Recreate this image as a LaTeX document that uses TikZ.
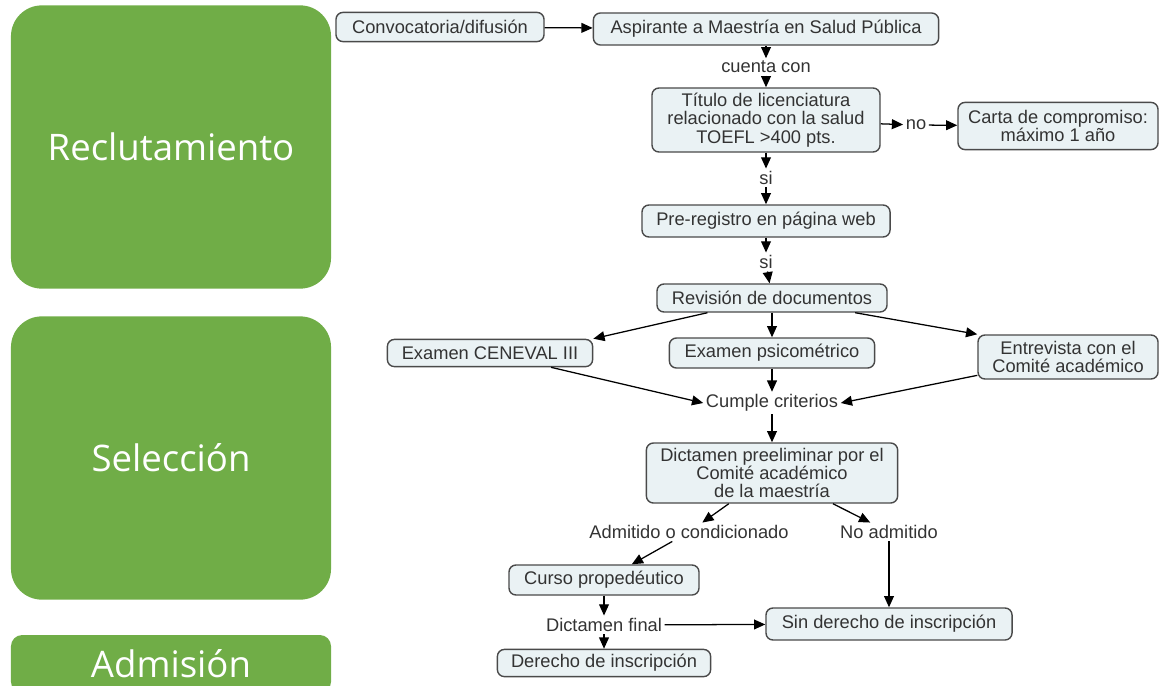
\documentclass[tikz,border=0pt]{standalone}
\usepackage{fontspec}
\setmainfont{Liberation Sans}
\newfontfamily\etapafont{Open Sans}
\usepackage{xcolor}
\usepackage{tikz}
\usetikzlibrary{arrows,arrows.meta}
\definecolor{verdeetapa}{HTML}{70AD47}
\definecolor{fondopaso}{HTML}{EAF2F4}
\definecolor{bordepaso}{HTML}{4A4A4A}
\definecolor{textopaso}{HTML}{333333}
\tikzset{
    paso/.style={
      rectangle,
      rounded corners=5pt,
      draw=bordepaso, line width=1pt,
      fill=fondopaso,
      inner sep=2pt,
      align=center,
      text=textopaso,
      font=\fontsize{13}{13}\selectfont,
    },
    etiqueta/.style={
      inner sep=1.5pt,
      text=textopaso,
      font=\fontsize{13}{13}\selectfont,
    },
    etapa/.style={
      rectangle,
      rounded corners=22pt,
      fill=verdeetapa,
      text=white,
      minimum width=8cm,
      font=\etapafont\fontsize{26}{30}\selectfont,
    },
}

\begin{document}
\begin{tikzpicture}[x=0.025cm,y=-0.025cm,->,>={Triangle[length=8pt,width=7pt]},line width=0.9pt]

    \useasboundingbox (0,0) rectangle (1168,685);

    \node[etapa, minimum height=7.08cm] (reclut) at (171,147) {Reclutamiento};
    \node[etapa, minimum height=7.08cm] (selec) at (171,458) {Selección};
    \node[etapa, minimum height=1.45cm, rounded corners=8pt] (admis) at (171,664) {Admisión};

    \node[paso, minimum width=5.2cm, minimum height=0.73cm] (conv) at (440,27) {Convocatoria/difusión};
    \node[paso, minimum width=8.63cm, minimum height=0.8cm] (asp) at (766,29) {Aspirante a Maestría en Salud Pública};
    \node[etiqueta] (cuenta) at (766,67) {cuenta con};

    \node[paso, minimum width=5.7cm, minimum height=1.6cm] (titulo) at (766,120)
    {
      Título de licenciatura \\
      relacionado con la salud \\
      TOEFL >400 pts.
    };
    \node[etiqueta] (no) at (916,125) {no};
    \node[paso, minimum width=5cm, minimum height=1.18cm] (carta) at (1058,126)
    {
      Carta de compromiso: \\
      máximo 1 año
    };

    \node[etiqueta] (si1) at (766,178) {si};
    \node[paso, minimum width=6.2cm, minimum height=0.8cm] (prereg) at (766,221) {Pre-registro en página web};
    \node[etiqueta] (si2) at (766,262) {si};
    \node[paso, minimum width=5.75cm, minimum height=0.7cm] (revision) at (772,298) {Revisión de documentos};

    \node[paso, minimum width=5.13cm, minimum height=0.68cm] (ceneval) at (490,353) {Examen CENEVAL III};
    \node[paso, minimum width=5.13cm, minimum height=0.75cm] (psico) at (772,353) {Examen psicométrico};
    \node[paso, minimum width=4.5cm, minimum height=1.1cm] (entrevista) at (1068,357)
    {
      Entrevista con el \\
      Comité académico
    };
    \node[etiqueta] (cumple) at (772,403) {Cumple criterios};

    \node[paso, minimum width=6.28cm, minimum height=1.5cm] (dictamen) at (772,473)
    {
      Dictamen preeliminar por el \\
      Comité académico \\
      de la maestría
    };
    \node[etiqueta] (admitido) at (689,532) {Admitido o condicionado};
    \node[etiqueta] (noadm) at (889,532) {No admitido};

    \node[paso, minimum width=4.75cm, minimum height=0.75cm] (curso) at (604,580) {Curso propedéutico};
    \node[etiqueta] (dfinal) at (604,625) {Dictamen final};
    \node[paso, minimum width=6.15cm, minimum height=0.8cm] (sinder) at (889,624) {Sin derecho de inscripción};
    \node[paso, minimum width=5.33cm, minimum height=0.68cm] (derecho) at (604,663) {Derecho de inscripción};

    \path

    (conv) edge (asp)

    (asp) edge (cuenta)
    (cuenta) edge (titulo)

    (titulo) edge (no)
    (no) edge (carta)

    (titulo) edge (si1)
    (si1) edge (prereg)
    (prereg) edge (si2)
    (si2) edge (revision)

    (revision) edge (ceneval.north east)
    (revision) edge (psico)
    (revision) edge (entrevista.north west)

    (ceneval) edge (cumple.west)
    (psico) edge (cumple)
    (entrevista) edge (cumple.east)

    (cumple) edge (dictamen)

    (dictamen) edge (admitido)
    (dictamen) edge (noadm)

    (admitido) edge (curso)
    (noadm) edge (sinder)

    (curso) edge (dfinal)
    (dfinal) edge (derecho)
    (dfinal) edge (sinder)

    ;
  \end{tikzpicture}
\end{document}
